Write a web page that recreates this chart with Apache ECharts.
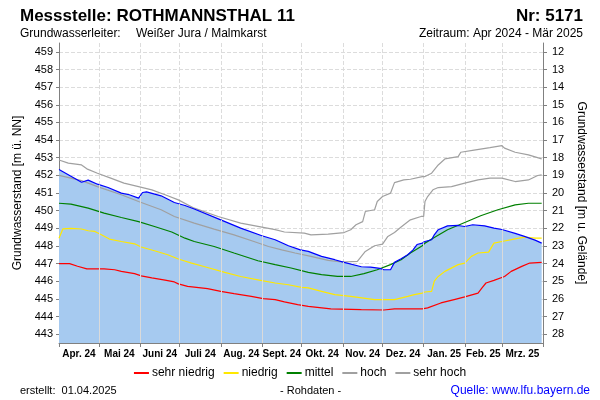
<!DOCTYPE html>
<html>
<head>
<meta charset="utf-8">
<script src="https://cdn.jsdelivr.net/npm/echarts@6/dist/echarts.min.js"></script>
<style>
html,body{margin:0;padding:0;background:#fff;}
#chart{width:600px;height:400px;}
</style>
</head>
<body>
<div id="chart"></div>
<script>
// ---------- DATA ----------
const monthStarts = ['2024-04-01','2024-05-01','2024-06-01','2024-07-01','2024-08-01','2024-09-01','2024-10-01','2024-11-01','2024-12-01','2025-01-01','2025-02-01','2025-03-01','2025-04-01'];
const monthLabels = ['Apr. 24','Mai 24','Juni 24','Juli 24','Aug. 24','Sept. 24','Okt. 24','Nov. 24','Dez. 24','Jan. 25','Feb. 25','Mrz. 25'];
const leftTicks = [443,444,445,446,447,448,449,450,451,452,453,454,455,456,457,458,459];
const rightTicks = [12,13,14,15,16,17,18,19,20,21,22,23,24,25,26,27,28];

// Grundwasserstand (Messwerte)
const level = [['2024-04-01',452.33],['2024-04-18',451.61],['2024-04-19',451.5],['2024-04-23',451.73],['2024-04-30',451.5],['2024-05-08',451.31],['2024-05-18',450.99],['2024-05-24',450.9],['2024-05-31',450.71],['2024-06-03',451.03],['2024-06-06',451.06],['2024-06-17',450.84],['2024-06-27',450.46],['2024-07-05',450.29],['2024-07-12',450.09],['2024-08-01',449.48],['2024-08-16',449.01],['2024-09-01',448.58],['2024-09-11',448.35],['2024-09-21',448.01],['2024-09-30',447.78],['2024-10-06',447.69],['2024-10-16',447.41],['2024-10-26',447.22],['2024-11-02',447.07],['2024-11-15',446.82],['2024-11-22',446.8],['2024-11-29',446.73],['2024-12-02',446.65],['2024-12-07',446.65],['2024-12-10',447.07],['2024-12-15',447.27],['2024-12-20',447.5],['2024-12-24',447.78],['2024-12-27',448.08],['2024-12-31',448.16],['2025-01-02',448.25],['2025-01-07',448.35],['2025-01-09',448.63],['2025-01-12',448.92],['2025-01-19',449.14],['2025-01-27',449.16],['2025-02-01',449.1],['2025-02-07',449.2],['2025-02-16',449.14],['2025-02-23',449.01],['2025-03-01',448.93],['2025-03-11',448.71],['2025-03-18',448.54],['2025-03-26',448.33],['2025-03-31',448.16]];

const sehrNiedrig = [['2024-04-01',447.0],['2024-04-09',447.0],['2024-04-15',446.85],['2024-04-22',446.7],['2024-05-05',446.7],['2024-05-13',446.65],['2024-05-18',446.56],['2024-05-28',446.43],['2024-06-02',446.3],['2024-06-10',446.19],['2024-06-20',446.06],['2024-06-27',445.96],['2024-06-30',445.85],['2024-07-07',445.71],['2024-07-22',445.58],['2024-08-01',445.43],['2024-08-11',445.3],['2024-08-24',445.14],['2024-09-02',445.01],['2024-09-11',444.96],['2024-09-18',444.83],['2024-09-28',444.67],['2024-10-06',444.58],['2024-10-23',444.43],['2024-11-15',444.39],['2024-12-02',444.37],['2024-12-10',444.43],['2024-12-31',444.43],['2025-01-04',444.49],['2025-01-14',444.77],['2025-01-24',444.96],['2025-02-01',445.11],['2025-02-11',445.33],['2025-02-14',445.62],['2025-02-17',445.9],['2025-02-23',446.05],['2025-03-03',446.27],['2025-03-08',446.56],['2025-03-16',446.84],['2025-03-22',447.03],['2025-03-31',447.07]];

const niedrig = [['2024-04-01',448.44],['2024-04-04',448.97],['2024-04-10',449.0],['2024-04-18',448.96],['2024-04-23',448.86],['2024-04-28',448.82],['2024-05-03',448.63],['2024-05-09',448.39],['2024-05-18',448.25],['2024-05-28',448.12],['2024-06-02',447.94],['2024-06-12',447.73],['2024-06-22',447.5],['2024-06-30',447.26],['2024-07-10',447.03],['2024-07-22',446.78],['2024-08-04',446.5],['2024-08-16',446.27],['2024-09-01',446.03],['2024-09-11',445.9],['2024-09-21',445.8],['2024-10-01',445.65],['2024-10-06',445.62],['2024-10-16',445.43],['2024-10-26',445.24],['2024-11-07',445.14],['2024-11-25',444.96],['2024-12-10',444.96],['2024-12-20',445.14],['2024-12-25',445.24],['2024-12-31',445.33],['2025-01-02',445.39],['2025-01-07',445.43],['2025-01-09',446.0],['2025-01-12',446.27],['2025-01-17',446.56],['2025-01-27',446.94],['2025-02-01',447.03],['2025-02-06',447.41],['2025-02-11',447.6],['2025-02-19',447.65],['2025-02-23',448.16],['2025-03-01',448.25],['2025-03-11',448.4],['2025-03-18',448.5],['2025-03-26',448.44],['2025-03-31',448.44]];

const mittel = [['2024-04-01',450.42],['2024-04-10',450.37],['2024-04-23',450.14],['2024-05-05',449.86],['2024-05-18',449.61],['2024-05-31',449.38],['2024-06-12',449.1],['2024-06-25',448.79],['2024-07-05',448.44],['2024-07-12',448.25],['2024-07-27',447.97],['2024-08-11',447.6],['2024-08-29',447.16],['2024-09-11',446.94],['2024-09-23',446.75],['2024-10-06',446.5],['2024-10-16',446.37],['2024-10-28',446.27],['2024-11-07',446.27],['2024-11-17',446.43],['2024-11-27',446.65],['2024-12-07',446.94],['2024-12-15',447.22],['2024-12-22',447.6],['2024-12-31',448.01],['2025-01-02',448.16],['2025-01-09',448.48],['2025-01-19',448.92],['2025-02-01',449.33],['2025-02-13',449.71],['2025-02-26',450.05],['2025-03-11',450.33],['2025-03-21',450.42],['2025-03-31',450.42]];

const hoch = [['2024-04-01',452.0],['2024-04-10',451.84],['2024-04-18',451.7],['2024-04-30',451.36],['2024-05-18',450.9],['2024-05-31',450.52],['2024-06-17',450.05],['2024-06-27',449.67],['2024-07-12',449.29],['2024-07-27',448.95],['2024-08-11',448.63],['2024-08-26',448.25],['2024-09-06',447.97],['2024-09-16',447.78],['2024-09-26',447.6],['2024-10-08',447.41],['2024-10-21',447.18],['2024-10-31',447.09],['2024-11-12',447.12],['2024-11-15',447.41],['2024-11-18',447.69],['2024-11-25',448.01],['2024-12-01',448.1],['2024-12-05',448.54],['2024-12-10',448.76],['2024-12-15',449.07],['2024-12-22',449.48],['2024-12-30',449.67],['2025-01-01',449.67],['2025-01-02',450.52],['2025-01-04',450.8],['2025-01-08',451.18],['2025-01-12',451.31],['2025-01-22',451.36],['2025-02-01',451.56],['2025-02-11',451.74],['2025-02-20',451.84],['2025-03-01',451.84],['2025-03-11',451.65],['2025-03-21',451.74],['2025-03-28',451.99],['2025-03-31',452.03]];

const sehrHoch = [['2024-04-01',452.87],['2024-04-08',452.69],['2024-04-18',452.59],['2024-04-22',452.37],['2024-04-30',452.12],['2024-05-10',451.84],['2024-05-20',451.56],['2024-05-31',451.36],['2024-06-10',451.18],['2024-06-20',450.9],['2024-06-30',450.61],['2024-07-12',450.14],['2024-07-30',449.67],['2024-08-16',449.29],['2024-09-01',449.07],['2024-09-11',448.92],['2024-09-18',448.79],['2024-10-03',448.73],['2024-10-08',448.63],['2024-10-21',448.67],['2024-11-02',448.76],['2024-11-07',448.92],['2024-11-11',449.2],['2024-11-16',449.38],['2024-11-18',449.95],['2024-11-25',450.05],['2024-11-27',450.52],['2024-12-01',450.8],['2024-12-07',450.99],['2024-12-10',451.59],['2024-12-17',451.74],['2024-12-22',451.78],['2024-12-31',451.93],['2025-01-02',451.93],['2025-01-07',452.12],['2025-01-12',452.59],['2025-01-17',452.93],['2025-01-27',453.06],['2025-01-29',453.31],['2025-02-08',453.43],['2025-02-20',453.57],['2025-03-01',453.68],['2025-03-03',453.54],['2025-03-11',453.31],['2025-03-21',453.16],['2025-03-31',452.93]];

// ---------- BUILD ----------
function ts(s){const p=s.split('-').map(Number);return Date.UTC(p[0],p[1]-1,p[2]);}
function conv(arr){return arr.map(d=>[ts(d[0]),d[1]]);}
const monthTs = monthStarts.map(ts);
const midTs = monthLabels.map((_,i)=>(monthTs[i]+monthTs[i+1])/2);
const levelData = conv(level);
function interp(data,t){
  for(let i=1;i<data.length;i++){
    if(data[i][0]>=t){const a=data[i-1],b=data[i];return a[1]+(b[1]-a[1])*(t-a[0])/(b[0]-a[0]);}
  }
  return data[data.length-1][1];
}
const Y_MIN=442.5, Y_MAX=459.5;
const FONT='Liberation Sans, Arial, sans-serif';
const LW=1.2;
const vLines = monthTs.slice(1,-1).map(t=>[{coord:[t,Y_MIN]},{coord:[t,interp(levelData,t)]}]);

const chart = echarts.init(document.getElementById('chart'),null,{renderer:'canvas'});
function lineSeries(name,data,color){
  return {name:name,type:'line',data:conv(data),showSymbol:false,symbol:'none',
    lineStyle:{color:color,width:LW},itemStyle:{color:color},z:3,silent:true};
}
function monthLabel(v){let best=0,bd=Infinity;midTs.forEach((m,i)=>{const d=Math.abs(m-v);if(d<bd){bd=d;best=i;}});return monthLabels[best];}
chart.setOption({
  animation:false,
  textStyle:{fontFamily:FONT},
  grid:{left:59,right:57,top:43,bottom:57,containLabel:false},
  legend:{
    data:['sehr niedrig','niedrig','mittel','hoch','sehr hoch'],
    left:'center',top:362,icon:'rect',itemWidth:15,itemHeight:2,itemGap:9,
    textStyle:{fontSize:12,color:'#000',fontFamily:FONT,padding:[0,0,0,-2]},selectedMode:false
  },
  xAxis:{
    type:'value',min:monthTs[0],max:monthTs[monthTs.length-1],
    axisLine:{show:true,lineStyle:{color:'#808080'}},
    axisTick:{show:true,customValues:monthTs,length:4,lineStyle:{color:'#808080'}},
    axisLabel:{customValues:midTs,fontSize:10,fontWeight:'bold',color:'#000',margin:6,fontFamily:FONT,
      formatter:monthLabel},
    splitLine:{show:true,lineStyle:{type:'dashed',color:'#dcdcdc'}}
  },
  yAxis:[{
    type:'value',min:Y_MIN,max:Y_MAX,position:'left',
    name:'Grundwasserstand [m ü. NN]',nameLocation:'middle',nameRotate:90,nameGap:28,
    nameTextStyle:{fontSize:12,color:'#000',fontFamily:FONT},
    axisLine:{show:true,lineStyle:{color:'#808080'}},
    axisTick:{show:true,customValues:leftTicks,length:3,lineStyle:{color:'#808080'}},
    axisLabel:{customValues:leftTicks,fontSize:11,color:'#000',margin:6,fontFamily:FONT},
    splitLine:{show:true,lineStyle:{type:'dashed',color:'#dcdcdc'}}
  },{
    type:'value',min:11.5,max:28.5,inverse:true,position:'right',
    name:'Grundwasserstand [m u. Gelände]',nameLocation:'middle',nameRotate:-90,nameGap:28,
    nameTextStyle:{fontSize:12,color:'#000',fontFamily:FONT},
    axisLine:{show:true,lineStyle:{color:'#808080'}},
    axisTick:{show:true,customValues:rightTicks,length:4,lineStyle:{color:'#808080'}},
    axisLabel:{customValues:rightTicks,fontSize:11,color:'#000',margin:9,fontFamily:FONT},
    splitLine:{show:false}
  }],
  series:[
    {name:'Ganglinie',type:'line',data:levelData,showSymbol:false,symbol:'none',z:1,silent:true,
      lineStyle:{width:0},areaStyle:{color:'#A6CAF0',opacity:1,origin:'start'},
      markLine:{silent:true,symbol:'none',label:{show:false},animation:false,
        lineStyle:{type:'solid',color:'#dadada',width:1},data:vLines}},
    lineSeries('sehr niedrig',sehrNiedrig,'#ff0000'),
    lineSeries('niedrig',niedrig,'#ffe800'),
    lineSeries('mittel',mittel,'#008000'),
    lineSeries('hoch',hoch,'#a0a0a0'),
    lineSeries('sehr hoch',sehrHoch,'#a0a0a0'),
    {name:'Messwert',type:'line',data:levelData,showSymbol:false,symbol:'none',z:4,silent:true,
      lineStyle:{color:'#0000ff',width:LW}}
  ],
  graphic:[
    {type:'text',left:20,top:8,style:{text:'Messstelle: ROTHMANNSTHAL 11',font:'bold 17px '+FONT,fill:'#000'}},
    {type:'text',right:17,top:8,style:{text:'Nr: 5171',font:'bold 17px '+FONT,fill:'#000'}},
    {type:'text',left:20,top:28,style:{text:'Grundwasserleiter:',font:'12px '+FONT,fill:'#000'}},
    {type:'text',left:136,top:28,style:{text:'Weißer Jura / Malmkarst',font:'12px '+FONT,fill:'#000'}},
    {type:'text',right:17,top:28,style:{text:'Zeitraum: Apr 2024 - Mär 2025',font:'12px '+FONT,fill:'#000'}},
    {type:'text',left:20,top:385,style:{text:'erstellt:  01.04.2025',font:'11px '+FONT,fill:'#000'}},
    {type:'text',left:280,top:385,style:{text:'- Rohdaten -',font:'11px '+FONT,fill:'#000'}},
    {type:'text',right:10,top:385,style:{text:'Quelle: www.lfu.bayern.de',font:'12px '+FONT,fill:'#0000ff'}}
  ]
});
</script>
</body>
</html>
